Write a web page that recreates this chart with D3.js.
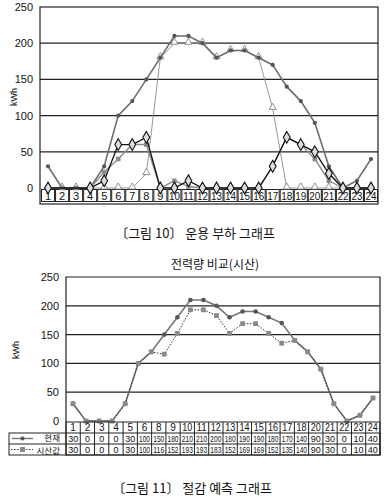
<!DOCTYPE html>
<html>
<head>
<meta charset="utf-8">
<script src="https://cdn.jsdelivr.net/npm/d3@7"></script>
<style>
  body { margin: 0; background: #fff; }
  text { font-family: "Liberation Sans", Arial, sans-serif; fill: #111; }
  .kr { font-family: "Noto Sans CJK KR", sans-serif; }
</style>
</head>
<body>
<div id="chart"></div>
<script>
// hours on the x axis (both charts)
var hours = ["1","2","3","4","5","6","7","8","9","10","11","12","13","14","15","16","17","18","19","20","21","22","23","24"];
var yTicks = [0, 50, 100, 150, 200, 250];

// chart 1 : operating load
var loadCircle   = [30,0,0,0,30,100,120,150,180,210,210,200,180,190,190,180,170,140,120,90,30,0,10,40];
var loadTriangle = [0,0,0,0,0,0,0,20,180,200,200,200,180,190,190,180,110,0,0,0,0,0,0,0];
var loadSquare   = [0,0,0,0,22,40,60,60,0,10,2,0,0,0,0,0,30,70,60,40,10,0,0,0];
var loadDiamond  = [0,null,null,0,10,60,60,70,0,0,10,0,0,0,0,0,30,70,60,50,20,0,0,0];

// chart 2 : saving forecast
var seriesNames = ["현재", "시산값"];
var simCurrent = [30,0,0,0,30,100,120,150,180,210,210,200,180,190,190,180,170,140,120,90,30,0,10,40];
var simCalc    = [30,0,0,0,30,100,120,116,152,193,193,183,152,169,169,152,135,140,120,90,30,0,10,40];

// the data table under chart 2 (as printed, 7 and 19 missing)
var tableCols    = ["1","2","3","4","5","6","8","9","10","11","12","13","14","15","16","17","18","20","21","22","23","24"];
var tableCurrent = [30,0,0,0,30,100,150,180,210,210,200,180,190,190,180,170,140,90,30,0,10,40];
var tableCalc    = [30,0,0,0,30,100,116,152,193,193,183,152,169,169,152,135,140,90,30,0,10,40];

var svg = d3.select("#chart").append("svg")
    .attr("width", 384)
    .attr("height", 504);

function pts(vals) {
    return vals.map(function(v, i) { return {h: hours[i], v: v}; })
        .filter(function(d) { return d.v !== null; });
}

// ---------------- chart 1 ----------------
var x1 = d3.scaleBand().domain(hours).range([41, 378]).padding(0);
var y1 = d3.scaleLinear().domain([0, 250]).range([188, 7]);
var cx1 = function(d) { return x1(d.h) + x1.bandwidth() / 2; };

var g1 = svg.append("g");

g1.selectAll(".grid").data(yTicks.slice(1, 5)).enter().append("line")
    .attr("x1", 40).attr("x2", 378)
    .attr("y1", function(d) { return y1(d); })
    .attr("y2", function(d) { return y1(d); })
    .attr("stroke", "#222").attr("stroke-width", 1.2);

g1.append("rect")
    .attr("x", 40).attr("y", 7).attr("width", 338).attr("height", 197)
    .attr("fill", "none").attr("stroke", "#222").attr("stroke-width", 1.2);

g1.selectAll(".ytick").data(yTicks).enter().append("text")
    .attr("x", 33).attr("y", function(d) { return y1(d) + 4; })
    .attr("text-anchor", "end").attr("font-size", 11)
    .text(function(d) { return d; });

g1.append("text")
    .attr("transform", "translate(17,97) rotate(-90)")
    .attr("text-anchor", "middle").attr("font-size", 9)
    .text("kWh");

// boxed hour labels
var box = g1.selectAll(".box").data(hours).enter().append("g");
box.append("rect")
    .attr("x", function(d) { return x1(d) + 0.5; })
    .attr("y", 189.5)
    .attr("width", x1.bandwidth() - 1).attr("height", 12)
    .attr("fill", "#fff").attr("stroke", "#222");
box.append("text")
    .attr("x", function(d) { return x1(d) + x1.bandwidth() / 2; })
    .attr("y", 199.5)
    .attr("text-anchor", "middle").attr("font-size", 11)
    .attr("textLength", function(d) { return d.length > 1 ? 11 : null; })
    .attr("lengthAdjust", "spacingAndGlyphs")
    .text(function(d) { return d; });

var line1 = d3.line().x(cx1).y(function(d) { return y1(d.v); });

// triangles: thin light line, hollow triangles
g1.append("path").datum(pts(loadTriangle)).attr("d", line1)
    .attr("fill", "none").attr("stroke", "#8a8a8a").attr("stroke-width", 0.9);
g1.selectAll(".tri").data(pts(loadTriangle)).enter().append("path")
    .attr("d", d3.symbol().type(d3.symbolTriangle).size(22))
    .attr("transform", function(d) { return "translate(" + cx1(d) + "," + (y1(d.v) - 1) + ")"; })
    .attr("fill", "#fff").attr("stroke", "#777").attr("stroke-width", 0.8);

// circles: grey line, dark dots
g1.append("path").datum(pts(loadCircle)).attr("d", line1)
    .attr("fill", "none").attr("stroke", "#6e6e6e").attr("stroke-width", 1.6);
g1.selectAll(".dot").data(pts(loadCircle)).enter().append("circle")
    .attr("cx", cx1).attr("cy", function(d) { return y1(d.v); })
    .attr("r", 2.1).attr("fill", "#555");

// squares
g1.append("path").datum(pts(loadSquare)).attr("d", line1)
    .attr("fill", "none").attr("stroke", "#8c8c8c").attr("stroke-width", 1.4);
g1.selectAll(".sq").data(pts(loadSquare)).enter().append("rect")
    .attr("x", function(d) { return cx1(d) - 2.3; })
    .attr("y", function(d) { return y1(d.v) - 2.3; })
    .attr("width", 4.6).attr("height", 4.6).attr("fill", "#8c8c8c");

// diamonds: black line, pale diamonds
g1.append("path").datum(pts(loadDiamond)).attr("d", line1)
    .attr("fill", "none").attr("stroke", "#111").attr("stroke-width", 1.3);
g1.selectAll(".dia").data(pts(loadDiamond)).enter().append("path")
    .attr("d", d3.symbol().type(d3.symbolDiamond).size(40))
    .attr("transform", function(d) { return "translate(" + cx1(d) + "," + y1(d.v) + ")"; })
    .attr("fill", "#ddd").attr("stroke", "#111").attr("stroke-width", 1.1);

svg.append("text").attr("class", "kr")
    .attr("x", 195).attr("y", 238)
    .attr("text-anchor", "middle").attr("font-size", 13)
    .text("〔그림 10〕 운용 부하 그래프");

// ---------------- chart 2 ----------------
var x2 = d3.scalePoint().domain(hours).range([73, 373]);
var y2 = d3.scaleLinear().domain([0, 250]).range([421, 277]);
var cx2 = function(d) { return x2(d.h); };
var g2 = svg.append("g");

svg.append("text").attr("class", "kr")
    .attr("x", 215).attr("y", 269)
    .attr("text-anchor", "middle").attr("font-size", 12)
    .text("전력량 비교(시산)");

g2.selectAll(".grid").data(yTicks.slice(1, 5)).enter().append("line")
    .attr("x1", 66).attr("x2", 380)
    .attr("y1", function(d) { return y2(d); })
    .attr("y2", function(d) { return y2(d); })
    .attr("stroke", "#222").attr("stroke-width", 1.2);

g2.append("path")
    .attr("d", "M66,455 V277 H380 V455")
    .attr("fill", "none").attr("stroke", "#222").attr("stroke-width", 1.2);

g2.selectAll(".ytick").data(yTicks).enter().append("text")
    .attr("x", 59).attr("y", function(d) { return y2(d) + 4; })
    .attr("text-anchor", "end").attr("font-size", 11)
    .text(function(d) { return d; });

g2.append("text")
    .attr("transform", "translate(19,350) rotate(-90)")
    .attr("text-anchor", "middle").attr("font-size", 9)
    .text("kWh");

var line2 = d3.line().x(cx2).y(function(d) { return y2(d.v); });

g2.append("path").datum(pts(simCurrent)).attr("d", line2)
    .attr("fill", "none").attr("stroke", "#777").attr("stroke-width", 1.6);
g2.append("path").datum(pts(simCalc)).attr("d", line2)
    .attr("fill", "none").attr("stroke", "#333").attr("stroke-width", 1)
    .attr("stroke-dasharray", "1.5,1.5");
g2.selectAll(".dot").data(pts(simCurrent)).enter().append("circle")
    .attr("cx", cx2).attr("cy", function(d) { return y2(d.v); })
    .attr("r", 2.3).attr("fill", "#555");
g2.selectAll(".sq").data(pts(simCalc)).enter().append("rect")
    .attr("x", function(d) { return cx2(d) - 2.4; })
    .attr("y", function(d) { return y2(d.v) - 2.4; })
    .attr("width", 4.8).attr("height", 4.8).attr("fill", "#8a8a8a");

// data table
var tx = d3.scaleBand().domain(tableCols).range([66, 380]);
var rowY = [422, 433, 444, 455];
var tbl = g2.append("g").attr("stroke", "#222").attr("stroke-width", 1);
tbl.append("rect").attr("x", 66).attr("y", rowY[0]).attr("width", 314).attr("height", rowY[3] - rowY[0]).attr("fill", "none");
tbl.append("rect").attr("x", 9).attr("y", rowY[1]).attr("width", 371).attr("height", rowY[3] - rowY[1]).attr("fill", "none");
tbl.append("line").attr("x1", 9).attr("x2", 380).attr("y1", rowY[2]).attr("y2", rowY[2]);
tbl.selectAll(".col").data(tableCols.slice(1)).enter().append("line")
    .attr("x1", function(d) { return tx(d); }).attr("x2", function(d) { return tx(d); })
    .attr("y1", rowY[0]).attr("y2", rowY[3]);

var rows = [tableCols, tableCurrent, tableCalc];
rows.forEach(function(row, r) {
    g2.selectAll(".cell" + r).data(row).enter().append("text")
        .attr("x", function(d, i) { return tx(tableCols[i]) + tx.bandwidth() / 2; })
        .attr("y", rowY[r] + 9)
        .attr("text-anchor", "middle")
        .attr("font-size", r === 0 ? 10 : 9)
        .attr("textLength", function(d) {
            var s = String(d);
            return s.length > 2 ? 11 : (s.length > 1 && r === 0 ? 10 : null);
        })
        .attr("lengthAdjust", "spacingAndGlyphs")
        .text(function(d) { return d; });
});

// legend cells
var lg = g2.append("g");
lg.append("line").attr("x1", 12).attr("x2", 33).attr("y1", 438.5).attr("y2", 438.5)
    .attr("stroke", "#777").attr("stroke-width", 1.4);
lg.append("circle").attr("cx", 22.5).attr("cy", 438.5).attr("r", 2.1).attr("fill", "#555");
lg.append("line").attr("x1", 11).attr("x2", 33).attr("y1", 449.5).attr("y2", 449.5)
    .attr("stroke", "#333").attr("stroke-dasharray", "1.5,1.5");
lg.append("rect").attr("x", 20).attr("y", 447).attr("width", 5).attr("height", 5).attr("fill", "#8a8a8a");
lg.selectAll(".lt").data(seriesNames).enter().append("text").attr("class", "kr")
    .attr("x", 60)
    .attr("y", function(d, i) { return i === 0 ? 441 : 453.5; })
    .attr("text-anchor", "end")
    .attr("font-size", 8.5)
    .text(function(d) { return d; });

svg.append("text").attr("class", "kr")
    .attr("x", 192).attr("y", 493)
    .attr("text-anchor", "middle").attr("font-size", 13)
    .text("〔그림 11〕 절감 예측 그래프");
</script>
</body>
</html>
